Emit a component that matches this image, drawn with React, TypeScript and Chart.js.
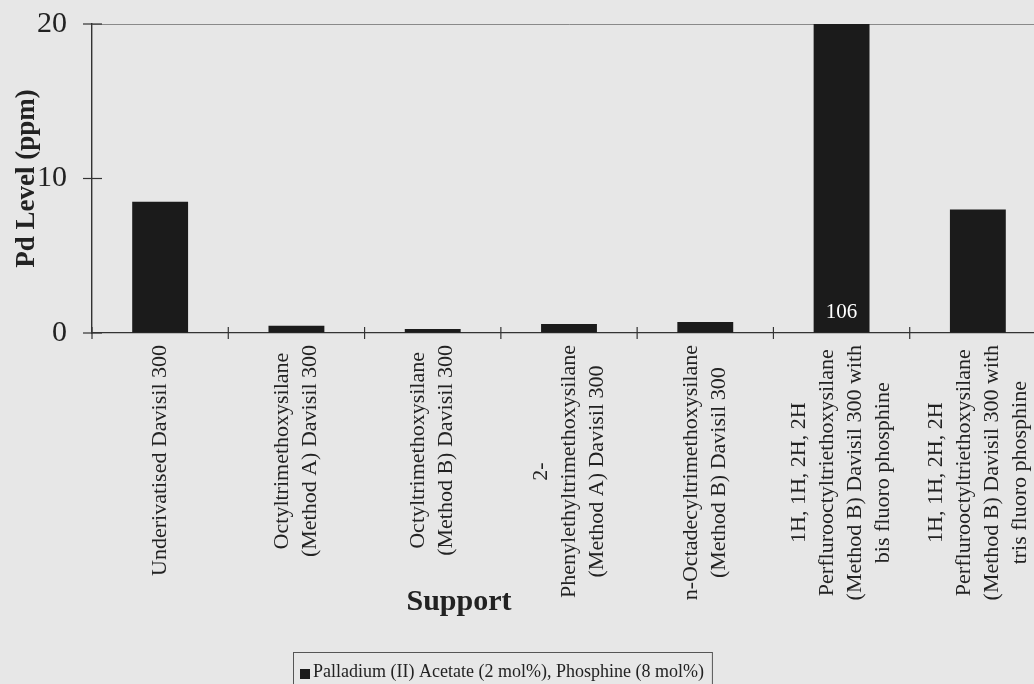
import React, { useEffect, useRef } from "react";
import { Chart, registerables } from "chart.js";

Chart.register(...registerables);

const categories: string[][] = [
  ["Underivatised Davisil 300"],
  ["Octyltrimethoxysilane", "(Method A) Davisil 300"],
  ["Octyltrimethoxysilane", "(Method B) Davisil 300"],
  ["2-", "Phenylethyltrimethoxysilane", "(Method A) Davisil 300"],
  ["n-Octadecyltrimethoxysilane", "(Method B) Davisil 300"],
  ["1H, 1H, 2H, 2H", "Perflurooctyltriethoxysilane", "(Method B) Davisil 300 with", "bis fluoro phosphine"],
  ["1H, 1H, 2H, 2H", "Perflurooctyltriethoxysilane", "(Method B) Davisil 300 with", "tris fluoro phosphine"],
];
const pdLevels: number[] = [8.5, 0.47, 0.26, 0.58, 0.71, 106, 8.0];
const yTickValues: number[] = [0, 10, 20];
const seriesLabel = "Palladium (II) Acetate (2 mol%), Phosphine (8 mol%)";
const yAxisTitle = "Pd Level (ppm)";
const xAxisTitle = "Support";

const SERIF = "'Liberation Serif', 'Times New Roman', Times, serif";
const INK = "#222222";
const BAR = "#1b1b1b";
const BG = "#e7e7e7";

const decorPlugin = {
  id: "decor",
  afterDraw(chart: any) {
    const { ctx, chartArea, scales } = chart;
    const xs = scales.x;
    const ys = scales.y;
    const labels = chart.data.labels as (string | string[])[];
    const n = labels.length;
    ctx.save();

    // tick marks
    ctx.strokeStyle = "#333";
    ctx.lineWidth = 1.2;
    ys.ticks.forEach((t: any) => {
      const py = ys.getPixelForValue(t.value);
      ctx.beginPath();
      ctx.moveTo(chartArea.left - 9, py);
      ctx.lineTo(chartArea.left + 10, py);
      ctx.stroke();
    });
    const step = xs.getPixelForValue(1) - xs.getPixelForValue(0);
    for (let i = 0; i <= n; i++) {
      const px = xs.getPixelForValue(0) + (i - 0.5) * step;
      ctx.beginPath();
      ctx.moveTo(px, chartArea.bottom - 6);
      ctx.lineTo(px, chartArea.bottom + 6);
      ctx.stroke();
    }

    // category labels, rotated, lines centred
    ctx.fillStyle = INK;
    ctx.font = `22px ${SERIF}`;
    ctx.textAlign = "center";
    ctx.textBaseline = "middle";
    const lh = 28;
    labels.forEach((lab, i) => {
      const lines = Array.isArray(lab) ? lab : [lab];
      const maxW = Math.max(...lines.map((l) => ctx.measureText(l).width));
      const cx = xs.getPixelForValue(i);
      const top = chartArea.bottom + 12;
      ctx.save();
      ctx.translate(cx, top + maxW / 2);
      ctx.rotate(-Math.PI / 2);
      lines.forEach((l, j) => {
        ctx.fillText(l, 0, (j - (lines.length - 1) / 2) * lh);
      });
      ctx.restore();
    });

    // value labels for bars beyond the axis maximum
    const meta = chart.getDatasetMeta(0);
    const data = chart.data.datasets[0].data as number[];
    ctx.fillStyle = "#ffffff";
    ctx.font = `21px ${SERIF}`;
    ctx.textBaseline = "middle";
    data.forEach((v, i) => {
      if (v > ys.max) {
        const el = meta.data[i];
        ctx.fillText(String(v), el.x, ys.getPixelForValue(0) - 21);
      }
    });

    // x axis title
    ctx.fillStyle = INK;
    ctx.font = `bold 30px ${SERIF}`;
    ctx.textAlign = "center";
    ctx.textBaseline = "alphabetic";
    ctx.fillText(xAxisTitle, 459, 610);

    // legend
    const ds = chart.data.datasets[0];
    ctx.font = `18px ${SERIF}`;
    const tw = ctx.measureText(ds.label).width;
    const bx = 293;
    const by = 652;
    ctx.fillStyle = ds.backgroundColor;
    ctx.fillRect(bx + 7, by + 17, 10, 10);
    ctx.fillStyle = INK;
    ctx.textAlign = "left";
    ctx.fillText(ds.label, bx + 20, by + 25);
    ctx.strokeStyle = "#555";
    ctx.lineWidth = 1;
    ctx.strokeRect(bx + 0.5, by + 0.5, tw + 28, 40);

    ctx.restore();
  },
};

export default function App() {
  const ref = useRef<HTMLCanvasElement>(null);
  useEffect(() => {
    if (!ref.current) return;
    const chart = new Chart(ref.current, {
      type: "bar",
      data: {
        labels: categories,
        datasets: [
          {
            label: seriesLabel,
            data: pdLevels,
            backgroundColor: BAR,
            borderWidth: 0,
            categoryPercentage: 1,
            barPercentage: 0.41,
          },
        ],
      },
      options: {
        responsive: false,
        animation: false,
        devicePixelRatio: 1,
        layout: { padding: { left: 0, top: 24, right: 14, bottom: 0 } },
        plugins: {
          legend: { display: false },
          tooltip: { enabled: false },
        },
        scales: {
          x: {
            type: "category",
            ticks: { display: false },
            grid: { display: false },
            border: { display: true, color: "#333", width: 1.2 },
            afterFit: (s: any) => {
              s.height = 351;
              s.paddingLeft = 0;
              s.paddingRight = 0;
            },
          },
          y: {
            min: yTickValues[0],
            max: yTickValues[yTickValues.length - 1],
            ticks: {
              stepSize: yTickValues[1] - yTickValues[0],
              color: INK,
              padding: 25,
              font: { family: SERIF, size: 30 },
            },
            grid: {
              drawTicks: false,
              color: (c: any) =>
                c.tick && c.tick.value === yTickValues[yTickValues.length - 1] ? "#8a8a8a" : "rgba(0,0,0,0)",
              lineWidth: 1,
            },
            border: { display: true, color: "#333", width: 1.4 },
            title: {
              display: true,
              text: yAxisTitle,
              color: INK,
              font: { family: SERIF, size: 27, weight: "bold" },
              padding: { top: 11, bottom: 0 },
            },
            afterFit: (s: any) => {
              s.width = 92;
              s.paddingTop = 0;
              s.paddingBottom = 0;
            },
          },
        },
      },
      plugins: [decorPlugin],
    });
    return () => chart.destroy();
  }, []);

  return (
    <div
      style={{
        position: "fixed",
        left: 0,
        top: 0,
        width: 1034,
        height: 684,
        overflow: "hidden",
        background: BG,
      }}
    >
      <canvas
        ref={ref}
        width={1060}
        height={684}
        style={{ position: "absolute", left: 0, top: 0, width: 1060, height: 684 }}
      />
    </div>
  );
}
